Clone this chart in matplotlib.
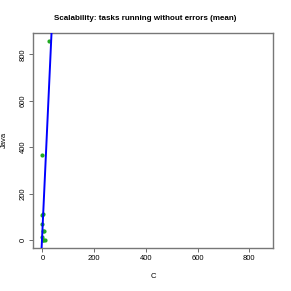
import numpy as np
import matplotlib
matplotlib.use("Agg")
import matplotlib.pyplot as plt

# mean number of tasks running without errors, C vs Java
c_tasks = [27, 0, 1, 0, 0, 1, 8, 0, 1, 10, 3]
java_tasks = [858, 366, 113, 107, 70, 40, 38, 14, 2, 1, 0]
ticks = [0, 200, 400, 600, 800]

plt.rcParams["font.family"] = ["Liberation Sans", "DejaVu Sans"]

x = np.array(c_tasks)
y = np.array(java_tasks)
slope, intercept = np.polyfit(x, y, 1)

lo = min(x.min(), y.min())
hi = max(x.max(), y.max())
pad = (hi - lo) * 0.04
lim = (lo - pad, hi + pad)

fig = plt.figure(figsize=(2.91, 2.91), dpi=100)
ax = fig.add_axes([0.115, 0.148, 0.824, 0.739])

ax.scatter(x, y, s=9, color="#22aa22", zorder=3, linewidths=0)
ax.axline((0, intercept), slope=slope, color="blue", lw=1.4, zorder=4)

ax.set_xlim(lim)
ax.set_ylim(lim)
ax.set_xticks(ticks)
ax.set_yticks(ticks)
ax.tick_params(labelsize=5.5, length=3, width=0.6, color="#555555", pad=2)
for lab in ax.get_yticklabels():
    lab.set_rotation(90)
    lab.set_va("center")
for sp in ax.spines.values():
    sp.set_color("#777777")
    sp.set_linewidth(1.0)

ax.set_xlabel("C", fontsize=5.5, labelpad=8)
ax.set_ylabel("Java", fontsize=5.5)
ax.yaxis.set_label_coords(-0.106, 0.5)
fig.suptitle("Scalability: tasks running without errors (mean)",
             fontsize=5.8, fontweight="bold", y=0.947)

fig.savefig("out.png", dpi=100)
